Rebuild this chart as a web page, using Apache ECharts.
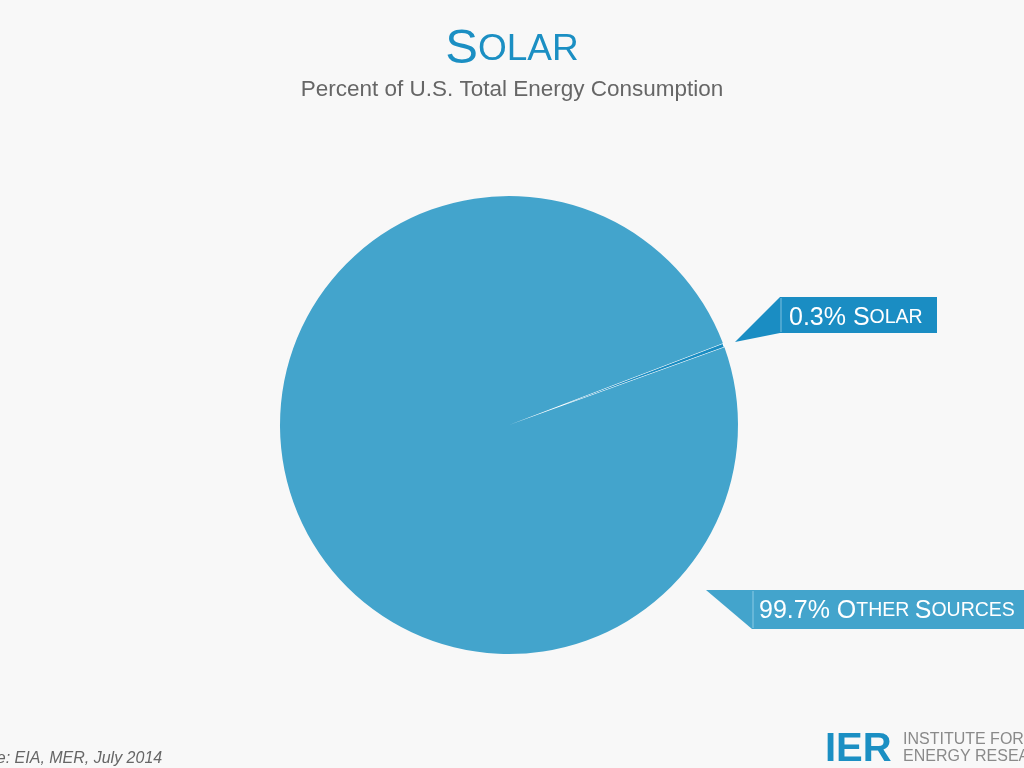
<!DOCTYPE html>
<html>
<head>
<meta charset="utf-8">
<script src="https://cdn.jsdelivr.net/npm/echarts@6/dist/echarts.min.js"></script>
<style>
  html, body { margin: 0; padding: 0; background: #f8f8f8; }
  #chart { width: 1024px; height: 768px; }
</style>
</head>
<body>
<div id="chart"></div>
<script>
// Slice names, shown in small caps as [lead letter, rest]
const sliceNames = [['S', 'OLAR'], ['O', 'THER '], ['S', 'OURCES']]
const categories = ['Solar', 'Other Sources']
const shares = [0.3, 99.7]
const sliceColors = ['#1a8dc3', '#43a4cc']

const font = '"Liberation Sans", Arial, Helvetica, sans-serif'

const chart = echarts.init(document.getElementById('chart'))

// label text in small caps
function capsLabel(value, words) {
  return `{a|${value}% }` + words.map(w => `{a|${w[0]}}{b|${w[1]}}`).join('')
}

const capsRich = {
  a: { fontFamily: font, fontSize: 25, fill: '#fff', color: '#fff' },
  b: { fontFamily: font, fontSize: 19.5, fill: '#fff', color: '#fff' },
}

const option = {
  backgroundColor: '#f8f8f8',
  title: {
    text: '{big|S}{small|OLAR}',
    subtext: 'Percent of U.S. Total Energy Consumption',
    left: 'center',
    top: 20,
    itemGap: 4,
    textStyle: {
      fontWeight: 'normal',
      rich: {
        big: { fontFamily: font, fontSize: 49, fontWeight: 'normal', color: '#1b8fc3' },
        small: { fontFamily: font, fontSize: 37, fontWeight: 'normal', color: '#1b8fc3' },
      },
    },
    subtextStyle: {
      fontFamily: font,
      fontSize: 22.5,
      color: '#666',
    },
  },
  series: [
    {
      type: 'pie',
      center: [509, 425],
      radius: 229,
      startAngle: 20.9,
      clockwise: true,
      avoidLabelOverlap: false,
      label: { show: false },
      labelLine: { show: false },
      emphasis: { disabled: true },
      data: categories.map((name, i) => ({
        name,
        value: shares[i],
        itemStyle: {
          color: sliceColors[i],
          borderColor: '#ffffff',
          borderWidth: i === 0 ? 1.2 : 0,
        },
      })),
    },
  ],
  graphic: [
    // solar call-out
    {
      type: 'polygon',
      shape: { points: [[735, 342], [780, 297], [780, 333]] },
      style: { fill: sliceColors[0] },
    },
    {
      type: 'rect',
      shape: { x: 780, y: 297, width: 157, height: 36 },
      style: { fill: sliceColors[0] },
    },
    {
      type: 'line',
      shape: { x1: 781, y1: 298, x2: 781, y2: 332 },
      style: { stroke: '#7cc0de', lineWidth: 1 },
    },
    {
      type: 'text',
      x: 789,
      y: 318,
      style: {
        text: capsLabel(shares[0], [sliceNames[0]]),
        rich: capsRich,
        fill: '#fff',
        verticalAlign: 'middle',
      },
    },
    // other sources call-out
    {
      type: 'polygon',
      shape: { points: [[706, 590], [752, 590], [752, 629]] },
      style: { fill: sliceColors[1] },
    },
    {
      type: 'rect',
      shape: { x: 752, y: 590, width: 280, height: 39 },
      style: { fill: sliceColors[1] },
    },
    {
      type: 'line',
      shape: { x1: 753, y1: 591, x2: 753, y2: 628 },
      style: { stroke: '#8ccbe5', lineWidth: 1 },
    },
    {
      type: 'text',
      x: 759,
      y: 611,
      style: {
        text: capsLabel(shares[1], [sliceNames[1], sliceNames[2]]),
        rich: capsRich,
        fill: '#fff',
        verticalAlign: 'middle',
      },
    },
    // source note (cut at left edge)
    {
      type: 'text',
      x: -45,
      y: 759,
      style: {
        text: 'Source: EIA, MER, July 2014',
        fontFamily: font,
        fontSize: 16,
        fontStyle: 'italic',
        fill: '#666',
        verticalAlign: 'middle',
      },
    },
    // logo
    {
      type: 'text',
      x: 825,
      y: 750,
      style: {
        text: 'IER',
        fontFamily: font,
        fontSize: 40,
        fontWeight: 'bold',
        fill: '#1b8fc3',
        verticalAlign: 'middle',
      },
    },
    {
      type: 'text',
      x: 903,
      y: 740,
      style: {
        text: 'INSTITUTE FOR',
        fontFamily: font,
        fontSize: 16,
        fill: '#8a8a8a',
        verticalAlign: 'middle',
      },
    },
    {
      type: 'text',
      x: 903,
      y: 757,
      style: {
        text: 'ENERGY RESEARCH',
        fontFamily: font,
        fontSize: 16,
        fill: '#8a8a8a',
        verticalAlign: 'middle',
      },
    },
  ],
}

chart.setOption(option)
</script>
</body>
</html>
